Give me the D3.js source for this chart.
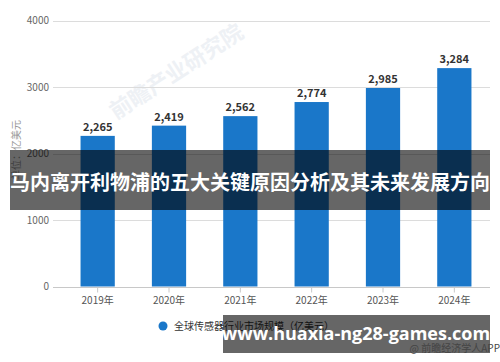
<!DOCTYPE html>
<html>
<head>
<meta charset="utf-8">
<script src="https://cdn.jsdelivr.net/npm/d3@7"></script>
<style>
  html, body { margin: 0; padding: 0; background: #fff; }
  svg { display: block; font-family: "Noto Sans CJK SC", "Noto Sans", sans-serif; }
</style>
</head>
<body>
<div id="chart"></div>
<script>
(() => {
  "use strict";

  const years = ["2019年","2020年","2021年","2022年","2023年","2024年"];
  const values = [2265, 2419, 2562, 2774, 2985, 3284];
  const yTicks = [0, 1000, 2000, 3000, 4000];
  const seriesName = "全球传感器行业市场规模（亿美元）";
  const yTitle = "单位：亿美元";
  const bannerText = "马内离开利物浦的五大关键原因分析及其未来发展方向";
  const siteText = "www.huaxia-ng28-games.com";
  const sourceText = "@ 前瞻经济学人APP";

  const width = 500, height = 362;
  const BLUE = "#1a77c9";

  const svg = d3.select("#chart").append("svg")
    .attr("width", width).attr("height", height);

  const x = d3.scaleBand().domain(years).range([62, 490]).paddingInner(0.52).paddingOuter(0.26);
  const y = d3.scaleLinear().domain([0, 4000]).range([286.5, 20.5]);

  // faint watermark
  svg.append("text")
    .attr("transform", "translate(116,120) rotate(-33)")
    .attr("font-size", 22).attr("font-weight", "bold")
    .attr("fill", "#eef1f5")
    .text("前瞻产业研究院");

  // grid
  svg.append("g").selectAll("line").data(yTicks.filter(d => d > 0)).join("line")
    .attr("x1", 53).attr("x2", 490)
    .attr("y1", d => Math.round(y(d)) + 0.5).attr("y2", d => Math.round(y(d)) + 0.5)
    .attr("stroke", "#dcdcdc");

  // y axis labels
  svg.append("g").selectAll("text").data(yTicks).join("text")
    .attr("x", 49).attr("y", d => y(d)).attr("dy", "0.35em")
    .attr("text-anchor", "end").attr("font-size", 10).attr("fill", "#666")
    .text(d => d);

  svg.append("text")
    .attr("transform", "translate(16,150) rotate(-90)")
    .attr("text-anchor", "middle").attr("dy", "0.35em")
    .attr("font-size", 10).attr("fill", "#999")
    .text(yTitle);

  // bars
  svg.append("g").selectAll("rect").data(values).join("rect")
    .attr("x", (d, i) => x(years[i])).attr("width", x.bandwidth())
    .attr("y", d => y(d)).attr("height", d => y(0) - y(d))
    .attr("fill", BLUE);

  svg.append("g").selectAll("text").data(values).join("text")
    .attr("x", (d, i) => x(years[i]) + x.bandwidth() / 2)
    .attr("y", d => y(d) - 5)
    .attr("text-anchor", "middle").attr("font-size", 11).attr("font-weight", "bold")
    .attr("fill", "#333")
    .text(d => d3.format(",")(d));

  // x axis
  const xAxis = svg.append("g").attr("transform", `translate(0,${Math.round(y(0)) + 0.5})`);
  xAxis.append("line").attr("x1", 53).attr("x2", 490).attr("stroke", "#c8c8c8");
  xAxis.selectAll("line.tick").data(years).join("line").attr("class", "tick")
    .attr("x1", d => x(d) + x.bandwidth() / 2).attr("x2", d => x(d) + x.bandwidth() / 2)
    .attr("y1", 0).attr("y2", 5).attr("stroke", "#c8c8c8");
  xAxis.selectAll("text").data(years).join("text")
    .attr("x", d => x(d) + x.bandwidth() / 2).attr("y", 13).attr("dy", "0.35em")
    .attr("text-anchor", "middle").attr("font-size", 10).attr("fill", "#555")
    .text(d => d);

  // legend
  svg.append("circle").attr("cx", 163).attr("cy", 326).attr("r", 4.5).attr("fill", BLUE);
  svg.append("text").attr("x", 174).attr("y", 326).attr("dy", "0.35em")
    .attr("font-size", 10).attr("fill", "#333").text(seriesName);

  // overlay banners
  svg.append("rect").attr("x", 10).attr("y", 150).attr("width", 480).attr("height", 60)
    .attr("fill", "rgba(0,0,0,0.6)");
  svg.append("text").attr("x", 250).attr("y", 183).attr("dy", "0.35em")
    .attr("text-anchor", "middle").attr("font-size", 20).attr("font-weight", "bold")
    .attr("fill", "#fff").text(bannerText);

  svg.append("rect").attr("x", 223).attr("y", 315).attr("width", 267).attr("height", 38)
    .attr("fill", "rgba(0,0,0,0.6)");
  svg.append("text").attr("x", 356).attr("y", 334).attr("dy", "0.35em")
    .attr("text-anchor", "middle").attr("font-size", 18).attr("font-weight", "bold")
    .attr("font-family", "'Open Sans', 'Noto Sans', sans-serif")
    .attr("fill", "#fff").text(siteText);

  svg.append("text").attr("x", 500).attr("y", 348).attr("dy", "0.35em")
    .attr("text-anchor", "end").attr("font-size", 10).attr("fill", "#444")
    .text(sourceText);
})();
</script>
</body>
</html>
